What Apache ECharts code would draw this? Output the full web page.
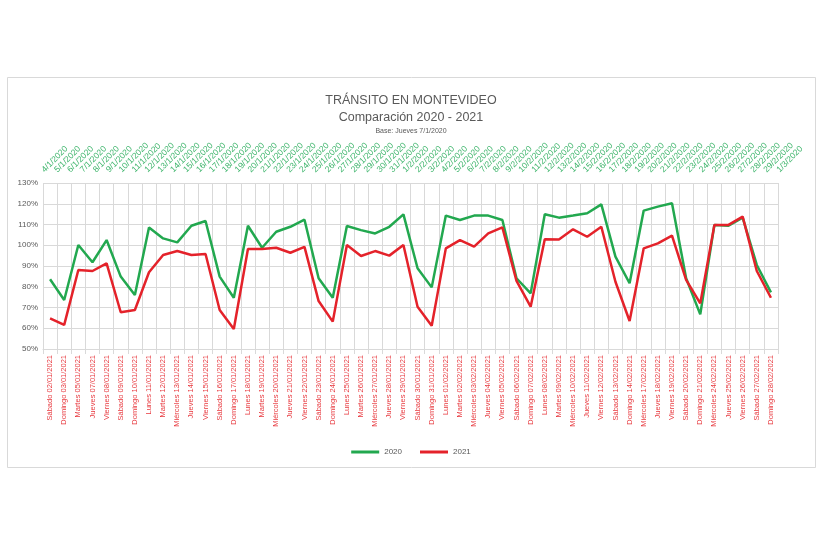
<!DOCTYPE html>
<html>
<head>
<meta charset="utf-8">
<script src="https://cdn.jsdelivr.net/npm/echarts@6/dist/echarts.min.js"></script>
<style>html,body{margin:0;padding:0;background:#fff;}#c{width:822px;height:548px;}</style>
</head>
<body>
<div id="c"></div>
<script>
const categories2021 = [
 "Sábado 02/01/2021","Domingo 03/01/2021","Martes 05/01/2021","Jueves 07/01/2021","Viernes 08/01/2021","Sábado 09/01/2021","Domingo 10/01/2021",
 "Lunes 11/01/2021","Martes 12/01/2021","Miércoles 13/01/2021","Jueves 14/01/2021","Viernes 15/01/2021","Sábado 16/01/2021","Domingo 17/01/2021",
 "Lunes 18/01/2021","Martes 19/01/2021","Miércoles 20/01/2021","Jueves 21/01/2021","Viernes 22/01/2021","Sábado 23/01/2021","Domingo 24/01/2021",
 "Lunes 25/01/2021","Martes 26/01/2021","Miércoles 27/01/2021","Jueves 28/01/2021","Viernes 29/01/2021","Sábado 30/01/2021","Domingo 31/01/2021",
 "Lunes 01/02/2021","Martes 02/02/2021","Miércoles 03/02/2021","Jueves 04/02/2021","Viernes 05/02/2021","Sábado 06/02/2021","Domingo 07/02/2021",
 "Lunes 08/02/2021","Martes 09/02/2021","Miércoles 10/02/2021","Jueves 11/02/2021","Viernes 12/02/2021","Sábado 13/02/2021","Domingo 14/02/2021",
 "Miércoles 17/02/2021","Jueves 18/02/2021","Viernes 19/02/2021","Sábado 20/02/2021","Domingo 21/02/2021",
 "Miércoles 24/02/2021","Jueves 25/02/2021","Viernes 26/02/2021","Sábado 27/02/2021","Domingo 28/02/2021"
];
const categories2020 = [
 "4/1/2020","5/1/2020","6/1/2020","7/1/2020","8/1/2020","9/1/2020","10/1/2020","11/1/2020","12/1/2020","13/1/2020",
 "14/1/2020","15/1/2020","16/1/2020","17/1/2020","18/1/2020","19/1/2020","20/1/2020","21/1/2020","22/1/2020","23/1/2020",
 "24/1/2020","25/1/2020","26/1/2020","27/1/2020","28/1/2020","29/1/2020","30/1/2020","31/1/2020",
 "1/2/2020","2/2/2020","3/2/2020","4/2/2020","5/2/2020","6/2/2020","7/2/2020","8/2/2020","9/2/2020","10/2/2020",
 "11/2/2020","12/2/2020","13/2/2020","14/2/2020","15/2/2020","16/2/2020","17/2/2020","18/2/2020","19/2/2020","20/2/2020",
 "21/2/2020","22/2/2020","23/2/2020","24/2/2020","25/2/2020","26/2/2020","27/2/2020","28/2/2020","29/2/2020","1/3/2020"
];
const values2020 = [
 83.6,73.6,100.1,91.8,102.5,84.9,76.0,
 108.6,103.3,101.4,109.4,111.7,84.9,74.7,
 109.4,98.8,106.5,108.9,112.3,84.1,74.7,
 109.3,107.3,105.7,108.9,114.9,88.9,79.7,
 114.3,112.2,114.3,114.3,112.2,84.1,76.8,
 114.9,113.3,114.3,115.4,119.7,94.5,81.7,
 116.7,118.6,120.2,84.1,66.7,
 109.8,109.4,113.3,90.5,77.3
];
const values2021 = [
 64.8,61.6,88.1,87.6,91.3,67.7,68.8,
 87.0,95.3,97.2,95.3,95.8,68.8,59.6,
 98.2,98.2,98.8,96.4,99.2,73.1,63.2,
 100.1,94.8,97.2,95.0,100.1,70.4,61.2,
 98.5,102.5,99.3,105.7,108.6,82.8,70.4,
 102.9,102.8,107.7,104.1,108.9,82.4,63.5,
 98.5,100.9,104.6,83.3,72.0,
 109.8,109.8,113.8,87.6,74.7
];
const seriesNames = ["2020","2021"];
const yTicks = {min:50, max:130, interval:10};

const chart = echarts.init(document.getElementById('c'), null, {renderer:'canvas'});
const font = 'Liberation Sans, Arial, sans-serif';
chart.setOption({
  animation:false,
  backgroundColor:'#fff',
  graphic:[{type:'rect', shape:{x:7.5,y:77.5,width:808,height:390}, style:{fill:'none', stroke:'#d9d9d9', lineWidth:1}, silent:true}],
  title:[
    {text:'TRÁNSITO EN MONTEVIDEO', left:'center', top:89, textStyle:{fontFamily:font, fontSize:12.5, fontWeight:'normal', color:'#595959'}},
    {text:'Comparación 2020 - 2021', left:'center', top:106, textStyle:{fontFamily:font, fontSize:12.5, fontWeight:'normal', color:'#595959'}},
    {text:'Base: Jueves 7/1/2020', left:'center', top:123, textStyle:{fontFamily:font, fontSize:7, fontWeight:'normal', color:'#595959'}}
  ],
  legend:{
    bottom:87, left:'center', itemWidth:28, itemHeight:3, icon:'rect', itemGap:18,
    textStyle:{fontFamily:font, fontSize:8, color:'#595959'},
    data:seriesNames
  },
  grid:{left:43, right:44, top:183, bottom:199, containLabel:false},
  xAxis:[
    {type:'category', position:'bottom', data:categories2021, boundaryGap:true,
     axisLine:{show:true, lineStyle:{color:'#d9d9d9'}},
     axisTick:{show:true, length:5, lineStyle:{color:'#d9d9d9'}},
     splitLine:{show:true, lineStyle:{color:'#d9d9d9'}},
     axisLabel:{interval:0, rotate:90, fontFamily:font, fontSize:7.5, color:'#e8393f', margin:6}},
    {type:'category', position:'top', data:categories2020, boundaryGap:false,
     axisLine:{show:false}, axisTick:{show:false}, splitLine:{show:false},
     axisLabel:{interval:0, rotate:-45, align:'left', verticalAlign:'middle', fontFamily:font, fontSize:8.5, color:'#3cb46a', margin:12}}
  ],
  yAxis:{type:'value', min:yTicks.min, max:yTicks.max, interval:yTicks.interval,
    axisLine:{show:false}, axisTick:{show:false},
    splitLine:{show:true, lineStyle:{color:'#d9d9d9'}},
    axisLabel:{formatter:'{value}%', fontFamily:font, fontSize:8, color:'#595959', margin:5}},
  series:[
    {name:seriesNames[0], type:'line', xAxisIndex:0, data:values2020, symbol:'none', lineStyle:{color:'#22a84f', width:2.5}, itemStyle:{color:'#22a84f'}},
    {name:seriesNames[1], type:'line', xAxisIndex:0, data:values2021, symbol:'none', lineStyle:{color:'#e4222a', width:2.5}, itemStyle:{color:'#e4222a'}}
  ]
});
</script>
</body>
</html>
